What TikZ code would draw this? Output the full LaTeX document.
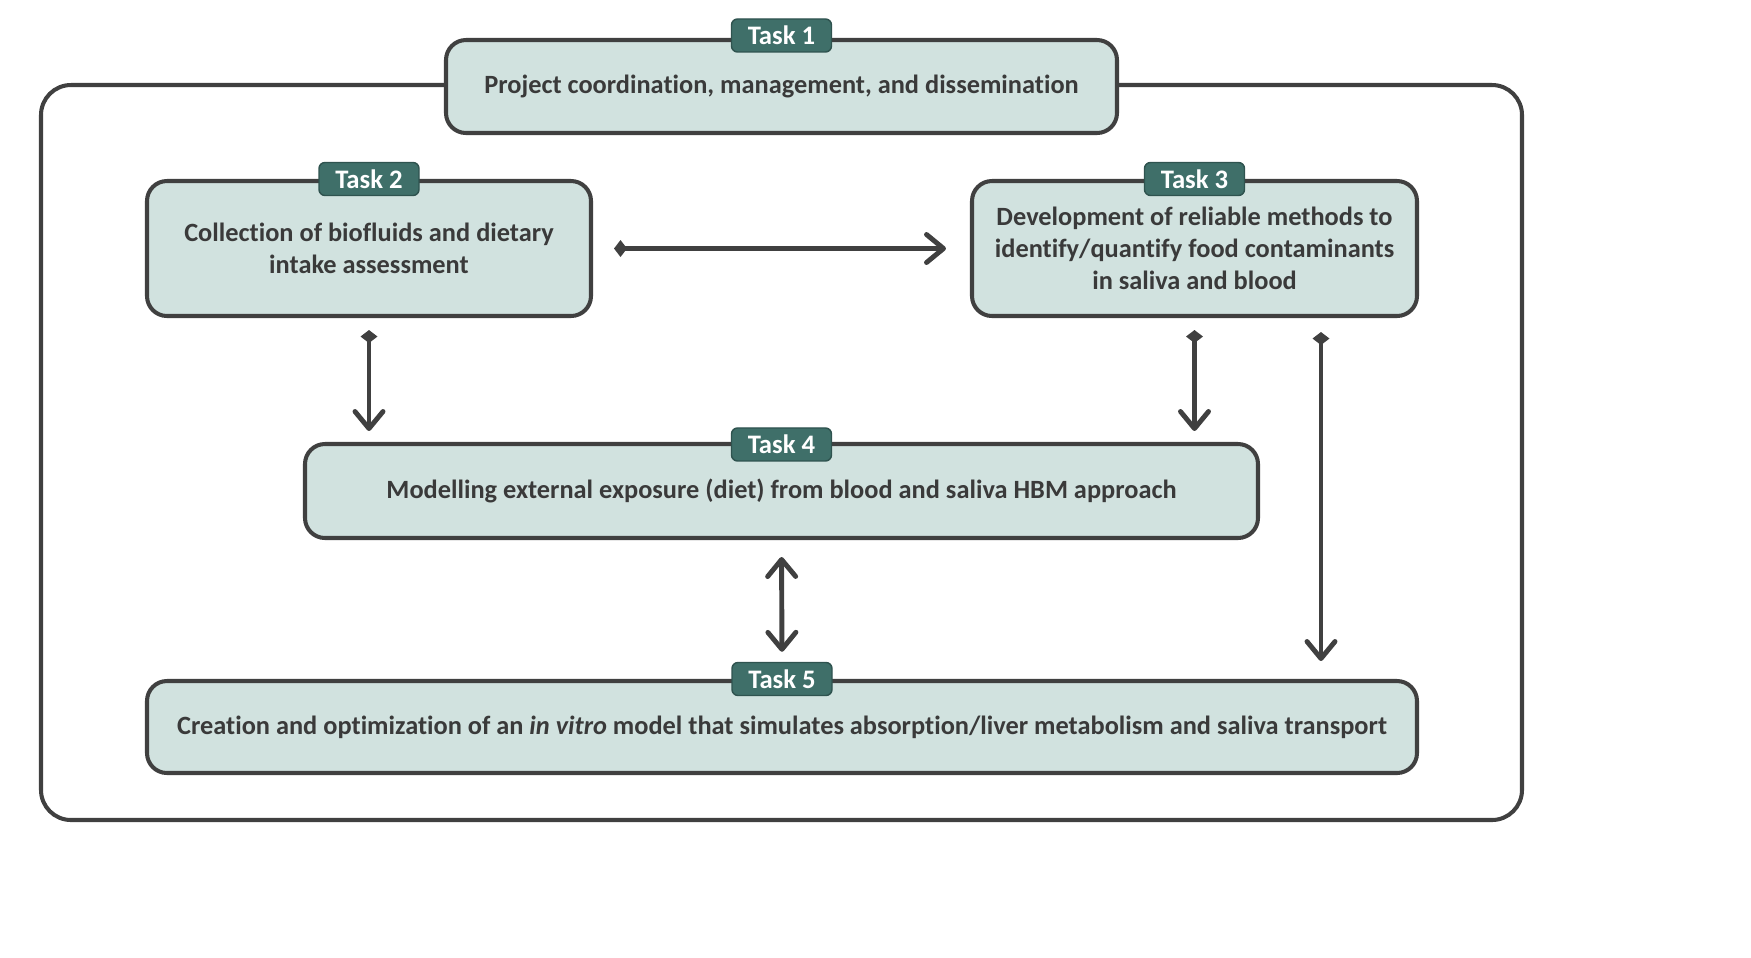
\documentclass[tikz,border=0pt]{standalone}
\usepackage{fontspec}
\setmainfont{Carlito}[Ligatures=NoCommon]
\usepackage{tikz}
\usetikzlibrary{positioning,calc,arrows.meta}
\definecolor{boxfill}{HTML}{D1E2DF}
\definecolor{tagfill}{HTML}{3F6F69}
\definecolor{edge}{HTML}{404040}
\tikzset{frame/.style={draw=edge, line width=1.15pt, rounded corners=0.3cm}}
\tikzset{taskbox/.style={draw=edge, line width=1.15pt, rounded corners=0.2cm, fill=boxfill, align=center, text=edge!90!black, font=\bfseries\fontsize{7.5}{9.1}\selectfont, inner sep=0pt}}
\tikzset{tasktag/.style={draw=tagfill!75!black, line width=0.4pt, rounded corners=0.06cm, fill=tagfill, text=white, font=\bfseries\fontsize{7.6}{9}\selectfont, minimum width=1cm, minimum height=0.33cm, inner sep=0pt}}
\tikzset{arr/.style={draw=edge, line width=1.4pt, {Diamond[length=0.13cm,width=0.17cm]}-{Straight Barb[length=0.17cm,width=0.28cm,round]}}}
\tikzset{arr2/.style={draw=edge, line width=1.4pt, {Straight Barb[length=0.17cm,width=0.28cm,round]}-{Straight Barb[length=0.17cm,width=0.28cm,round]}}}

\begin{document}
\begin{tikzpicture}
	\useasboundingbox (0,0) rectangle (17.51,-9.57);
	\draw[frame] (0.41,-0.85) rectangle (15.22,-8.20);
	%
	\node[taskbox, minimum width=6.71cm, minimum height=0.93cm] (t1) at (7.815,-0.865)
		{Project coordination, management, and dissemination};
	\node[taskbox, minimum width=4.44cm, minimum height=1.35cm] (t2) at (3.69,-2.485)
		{Collection of biofluids and dietary\\intake assessment};
	\node[taskbox, minimum width=4.45cm, minimum height=1.35cm] (t3) at (11.945,-2.485)
		{Development of reliable methods to\\identify/quantify food contaminants\\in saliva and blood};
	\node[taskbox, minimum width=9.53cm, minimum height=0.94cm] (t4) at (7.815,-4.91)
		{Modelling external exposure (diet) from blood and saliva HBM approach};
	\node[taskbox, minimum width=12.70cm, minimum height=0.92cm] (t5) at (7.82,-7.27)
		{Creation and optimization of an \textit{in vitro} model that simulates absorption/liver metabolism and saliva transport};
	%
	\node[tasktag] (tag1) at ([yshift=0.025cm]t1.north) {Task 1};
	\node[tasktag] (tag2) at (t2.north) {Task 2};
	\node[tasktag] (tag3) at (t3.north) {Task 3};
	\node[tasktag] (tag4) at ([yshift=-0.025cm]t4.north) {Task 4};
	\node[tasktag] (tag5) at (t5.north) {Task 5};
	%
	\draw[arr, shorten <=0.21cm, shorten >=0.24cm] (t2) -- (t3);
	\draw[arr, shorten <=0.12cm, shorten >=0.11cm] (t2.south) -- (t2.south |- t4.north);
	\draw[arr, shorten <=0.12cm, shorten >=0.11cm] (t3.south) -- (t3.south |- t4.north);
	% long link from task 3 down to task 5
	\draw[arr, shorten <=0.14cm, shorten >=0.18cm]
		([xshift=1.265cm]t3.south) -- ([xshift=1.265cm]t3.south |- t5.north);
	\draw[arr2, shorten <=0.17cm, shorten >=0.1cm] (t4.south) -- (tag5.north);
\end{tikzpicture}
\end{document}
